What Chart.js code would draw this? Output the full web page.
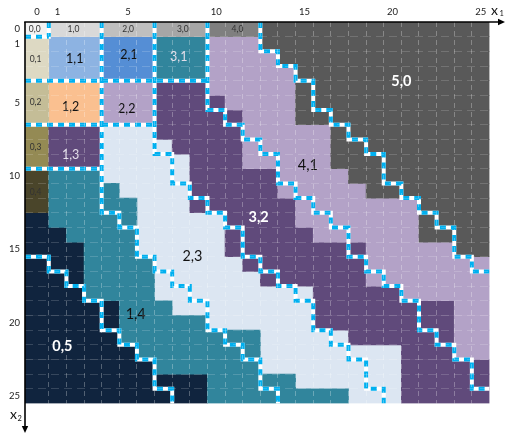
<!DOCTYPE html>
<html lang="en">
<head>
<meta charset="utf-8">
<title>Cell classes over (x1, x2)</title>
<script src="https://cdn.jsdelivr.net/npm/chart.js@4.4.1/dist/chart.umd.min.js"></script>
<style>
  html, body { margin: 0; padding: 0; background: #ffffff; }
  #box { position: relative; width: 506px; height: 435px; }
</style>
</head>
<body>
<div id="box"><canvas id="cells"></canvas></div>
<script>
// Axis ranges: x1 runs across, x2 runs downward; column 0 is a little wider.
const X_MIN = -0.85, X_MAX = 25.5;
const Y_MIN = -0.5, Y_MAX = 25.5;

// Tick labels
const x1Ticks = [0, 1, 5, 10, 15, 20, 25];
const x2Ticks = [0, 1, 5, 10, 15, 20, 25];

// Cell classes, one entry per row x2 = 0..25, written as runs "<class><count>" from x1 = 0.
const cellRows = [
  'a1 b3 c3 d3 e3 G13',
  'f1 B3 U3 T3 L3 G13',
  'f1 B3 U3 T3 L4 G12',
  'f1 B3 U3 T3 L5 G11',
  'g1 O3 L3 P3 L5 G11',
  'g1 O3 L3 P4 L4 G11',
  'g1 O3 L3 P5 L3 G11',
  'h1 P3 W3 P5 L5 G9',
  'h1 P3 W4 P4 L5 G9',
  'h1 P3 W5 P3 L5 G9',
  'i1 T3 W5 P5 L4 G8',
  'i1 T4 W4 P5 L5 G7',
  'i1 T5 W3 P6 L7 G4',
  'N1 T5 W5 P4 L7 G4',
  'N2 T4 W5 P5 L6 G4',
  'N3 T3 W5 P8 L5 G2',
  'N3 T4 W5 P7 L7',
  'N3 T4 W6 P6 L7',
  'N3 T4 W9 P5 L5',
  'N5 T3 W8 P8 L2',
  'N5 T5 W6 P8 L2',
  'N5 T8 W5 P6 L2',
  'N6 T7 W8 P3 L2',
  'N7 T6 W8 P5',
  'N10 T5 W6 P5',
  'N10 T8 W3 P5'
];

// Fill colour of each cell class
const palette = {
  a: '#f2f2f2', b: '#d9d9d9', c: '#bfbfbf', d: '#a6a6a6', e: '#7f7f7f', G: '#595959',
  f: '#ddd9c3', g: '#c4bd97', h: '#948a54', i: '#4a452a', N: '#10243e',
  B: '#8db3e2', U: '#558ed5', T: '#31859c', O: '#fac090',
  L: '#b3a2c7', P: '#604a7b', W: '#dce6f2'
};

// Stepped borders: first x1 column on the right-hand side, row by row (26 = past the last column).
const seam00Start = 0,  seam00 = [1];
const seam05Start = 16, seam05 = [1, 2, 3, 4, 4, 5, 6, 7, 7, 8];
const seam12Start = 0,  seam12 = [4, 4, 4, 4, 4, 4, 4, 4, 4, 4, 4, 4, 4, 5, 6, 6, 7, 8, 9, 10, 10, 11, 12, 13, 13, 14];
const seam23Start = 0,  seam23 = [7, 7, 7, 7, 7, 7, 7, 7, 7, 8, 8, 9, 10, 11, 12, 12, 13, 14, 15, 16, 16, 17, 18, 19, 19, 20];
const seam34Start = 0,  seam34 = [10, 10, 10, 10, 10, 10, 11, 12, 13, 14, 14, 15, 16, 17, 18, 18, 19, 20, 21, 22, 22, 23, 24, 25, 25, 26];
const seam45Start = 0,  seam45 = [13, 13, 14, 15, 16, 16, 17, 18, 19, 20, 20, 21, 22, 23, 24, 24, 25, 26];

// Straight borders across the first columns: top of row, first column past the border
const shelfRows = [1, 4, 7, 10];
const shelfEnds = [1, 10, 7, 4];

// Class names written on the grid, with their anchor in (x1, x2)
const regionLabels = ['0,0', '1,0', '2,0', '3,0', '4,0', '0,1', '1,1', '2,1', '3,1', '0,2', '1,2', '2,2',
                      '0,3', '1,3', '0,4', '5,0', '4,1', '3,2', '2,3', '1,4', '0,5'];
const labelX1 = [-0.3, 1.9, 5.0, 8.1, 11.2, -0.25, 1.97, 5.04, 7.87, -0.25, 1.74, 4.92,
                 -0.25, 1.74, -0.25, 20.5, 15.2, 12.4, 8.65, 5.43, 1.27];
const labelX2 = [0, 0, 0, 0, 0, 2.02, 2.02, 1.75, 1.89, 4.95, 5.29, 5.43,
                 8.02, 8.57, 11.09, 3.57, 9.3, 12.79, 15.5, 19.42, 21.63];

// Label styling
const lightText = ['3,1', '1,3', '5,0', '3,2', '0,5'];
const boldText = ['5,0', '3,2', '0,5'];
const FONT = 'Lato, "Open Sans", sans-serif';

// ---- build the floating bars (one per run of equal cells in a row) ----
const runsByClass = {};
cellRows.forEach((row, r) => {
  let col = 0;
  row.split(' ').forEach(tok => {
    const key = tok[0];
    const n = parseInt(tok.slice(1), 10);
    const from = col === 0 ? X_MIN : col - 0.5;
    (runsByClass[key] = runsByClass[key] || []).push({ y: r, x: [from, col + n - 0.5] });
    col += n;
  });
});

const cellSets = Object.keys(runsByClass).map(key => ({
  type: 'bar',
  label: key,
  indexAxis: 'y',
  xAxisID: 'x',
  yAxisID: 'y',
  data: runsByClass[key],
  backgroundColor: palette[key],
  borderWidth: 0,
  grouped: false,
  barPercentage: 1,
  categoryPercentage: 1,
  order: 3
}));

// ---- borders as polylines in data space ----
function stairPoints(cols, r0) {
  const pts = r0 === 0
    ? [{ x: cols[0] - 0.5, y: Y_MIN }]
    : [{ x: X_MIN, y: r0 - 0.5 }, { x: cols[0] - 0.5, y: r0 - 0.5 }];
  cols.forEach((c, k) => {
    const r = r0 + k;
    const xe = c > 25 ? X_MAX : c - 0.5;
    if (k > 0) pts.push({ x: xe, y: r - 0.5 });
    if (c <= 25) pts.push({ x: xe, y: r + 0.5 });
  });
  return pts;
}

const paths = [
  stairPoints(seam00, seam00Start),
  stairPoints(seam05, seam05Start),
  stairPoints(seam12, seam12Start),
  stairPoints(seam23, seam23Start),
  stairPoints(seam34, seam34Start),
  stairPoints(seam45, seam45Start),
  ...shelfRows.map((r, k) => [{ x: X_MIN, y: r - 0.5 }, { x: shelfEnds[k] - 0.5, y: r - 0.5 }])
];
const seamData = paths.flatMap((p, k) => (k ? [{ x: NaN, y: NaN }, ...p] : p));

const seamBase = {
  type: 'line', indexAxis: 'x', xAxisID: 'x', yAxisID: 'y',
  data: seamData, borderColor: '#ffffff', borderWidth: 4,
  pointRadius: 0, pointHoverRadius: 0, tension: 0, fill: false, spanGaps: false,
  borderJoinStyle: 'miter', borderCapStyle: 'square', order: 2
};
const seamDash = Object.assign({}, seamBase, {
  borderColor: '#00b0f0', borderDash: [6, 5], borderCapStyle: 'butt', order: 1
});

// ---- tick placement helpers ----
const colZeroMid = (X_MIN + 0.5) / 2;
const edges = n => Array.from({ length: n }, (_, k) => ({ value: k + 0.5 }));

// ---- overlays: class names, axis arrows and axis names ----
const labelPlugin = {
  id: 'classNames',
  afterDatasetsDraw(chart) {
    const { ctx, scales: { x, y } } = chart;
    ctx.save();
    ctx.textAlign = 'center';
    ctx.textBaseline = 'middle';
    regionLabels.forEach((t, k) => {
      const [i, j] = t.split(',').map(Number);
      const edge = (i === 0 || j === 0) && i + j < 5;
      const bold = boldText.includes(t);
      const size = edge ? 8.5 : (i + j === 5 ? 14.5 : 12.5);
      ctx.font = (bold ? 'bold ' : '') + size + 'px ' + FONT;
      ctx.fillStyle = edge ? '#333333'
        : lightText.includes(t) ? (bold ? '#ffffff' : '#e2dde9') : '#111111';
      ctx.fillText(t, x.getPixelForValue(labelX1[k]), y.getPixelForValue(labelX2[k]));
    });
    ctx.restore();
  }
};

const axisPlugin = {
  id: 'axisArrows',
  afterDraw(chart) {
    const { ctx, chartArea: a, width, height } = chart;
    ctx.save();
    ctx.strokeStyle = '#000000';
    ctx.fillStyle = '#000000';
    ctx.lineWidth = 1.6;
    // x1 axis along the top edge
    const tipX = width - 1;
    ctx.beginPath();
    ctx.moveTo(a.left - 0.8, a.top);
    ctx.lineTo(tipX - 4, a.top);
    ctx.stroke();
    ctx.beginPath();
    ctx.moveTo(tipX, a.top);
    ctx.lineTo(tipX - 7, a.top - 3.2);
    ctx.lineTo(tipX - 7, a.top + 3.2);
    ctx.closePath();
    ctx.fill();
    // x2 axis down the left edge
    const tipY = height - 2;
    ctx.beginPath();
    ctx.moveTo(a.left, a.top);
    ctx.lineTo(a.left, tipY - 4);
    ctx.stroke();
    ctx.beginPath();
    ctx.moveTo(a.left, tipY);
    ctx.lineTo(a.left - 3.2, tipY - 7);
    ctx.lineTo(a.left + 3.2, tipY - 7);
    ctx.closePath();
    ctx.fill();
    // axis names
    ctx.fillStyle = '#111111';
    ctx.textAlign = 'left';
    ctx.textBaseline = 'alphabetic';
    ctx.font = '14px ' + FONT;
    ctx.fillText('x', a.right + 1.5, a.top - 7);
    ctx.fillText('x', a.left - 15, a.bottom + 15.5);
    ctx.font = '7.5px ' + FONT;
    ctx.fillText('1', a.right + 10, a.top - 6);
    ctx.fillText('2', a.left - 7.5, a.bottom + 17);
    ctx.restore();
  }
};

function draw() {
  Chart.defaults.font.family = FONT;
  new Chart(document.getElementById('cells'), {
    type: 'bar',
    data: { datasets: [...cellSets, seamBase, seamDash] },
    options: {
      responsive: true,
      maintainAspectRatio: false,
      animation: false,
      devicePixelRatio: 1,
      events: [],
      layout: { padding: { top: 0, left: 0, right: 16.5, bottom: 31.5 }, autoPadding: false },
      plugins: { legend: { display: false }, tooltip: { enabled: false } },
      scales: {
        x: {
          type: 'linear', position: 'top', min: X_MIN, max: X_MAX, offset: false,
          afterBuildTicks: s => { s.ticks = x1Ticks.map(v => ({ value: v === 0 ? colZeroMid : v })); },
          afterFit: s => { s.height = 22; s.paddingLeft = 0; s.paddingRight = 0; },
          ticks: {
            callback: (v, k) => String(x1Ticks[k]),
            autoSkip: false, maxRotation: 0, minRotation: 0, padding: 4,
            color: '#222222', font: { size: 9.5, family: FONT }
          },
          grid: { display: false, offset: false, drawTicks: false },
          border: { display: false }
        },
        xg: {
          type: 'linear', axis: 'x', position: 'top', min: X_MIN, max: X_MAX, offset: false,
          afterBuildTicks: s => { s.ticks = edges(25); },
          afterFit: s => { s.height = 0; s.paddingLeft = 0; s.paddingRight = 0; },
          ticks: { display: false },
          grid: { color: 'rgba(255,255,255,0.28)', lineWidth: 1, drawTicks: false, offset: false, z: 1 },
          border: { display: false, dash: [5, 4] }
        },
        y: {
          type: 'linear', position: 'left', reverse: true, min: Y_MIN, max: Y_MAX, offset: false,
          afterBuildTicks: s => { s.ticks = x2Ticks.map(v => ({ value: v })); },
          afterFit: s => { s.width = 25; s.paddingTop = 0; s.paddingBottom = 0; },
          ticks: {
            callback: (v, k) => String(x2Ticks[k]),
            autoSkip: false, padding: 5,
            color: '#222222', font: { size: 9.5, family: FONT }
          },
          grid: { display: false, offset: false, drawTicks: false },
          border: { display: false }
        },
        yg: {
          type: 'linear', axis: 'y', position: 'left', reverse: true, min: Y_MIN, max: Y_MAX, offset: false,
          afterBuildTicks: s => { s.ticks = edges(25); },
          afterFit: s => { s.width = 0; s.paddingTop = 0; s.paddingBottom = 0; },
          ticks: { display: false },
          grid: { color: 'rgba(255,255,255,0.16)', lineWidth: 1, drawTicks: false, offset: false, z: 1 },
          border: { display: false, dash: [8, 5] }
        }
      }
    },
    plugins: [labelPlugin, axisPlugin]
  });
}

const fontReady = document.fonts && document.fonts.load
  ? Promise.all([document.fonts.load('10px Lato'), document.fonts.load('bold 14px Lato')]).catch(() => null)
  : Promise.resolve();
fontReady.then(draw);
</script>
</body>
</html>
